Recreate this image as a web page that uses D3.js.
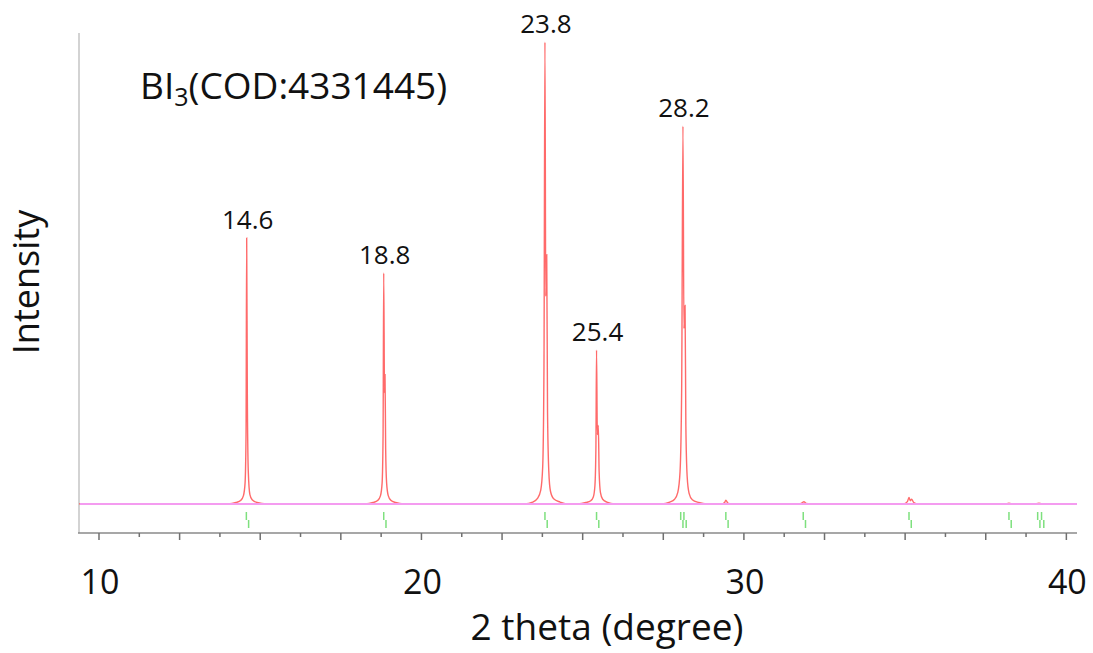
<!DOCTYPE html>
<html>
<head>
<meta charset="utf-8">
<script src="https://cdn.jsdelivr.net/npm/d3@7/dist/d3.min.js"></script>
<style>
  body { margin: 0; background: #fff; }
  text { font-family: "Open Sans", "Noto Sans", sans-serif; fill: #111; }
</style>
</head>
<body>
<svg id="chart" width="1093" height="653"></svg>
<script>
// simulated powder pattern, [2theta, relative intensity]
const pattern = [
  [9.38, 0], [14.0, 0], [14.25, 0.3], [14.4, 0.8], [14.48, 1.8], [14.53, 4.5], [14.56, 15],
  [14.58, 57.6], [14.6, 24], [14.63, 7], [14.68, 2], [14.75, 0.9], [14.9, 0.3], [15.2, 0],
  [18.25, 0], [18.5, 0.3], [18.65, 0.8], [18.73, 1.8], [18.78, 4.5], [18.81, 15],
  [18.83, 50], [18.855, 24], [18.87, 28], [18.89, 12], [18.92, 4.5], [18.97, 1.8],
  [19.05, 0.8], [19.2, 0.3], [19.45, 0],
  [23.2, 0], [23.45, 0.4], [23.6, 1.2], [23.7, 3], [23.76, 8], [23.8, 30],
  [23.83, 100], [23.855, 45], [23.885, 54], [23.91, 20], [23.95, 7], [24.0, 2.8],
  [24.1, 1.1], [24.3, 0.4], [24.5, 0],
  [24.85, 0], [25.1, 0.3], [25.25, 0.7], [25.33, 1.5], [25.38, 4], [25.41, 12],
  [25.43, 33.3], [25.455, 15], [25.485, 17], [25.51, 7], [25.55, 2.5], [25.62, 1],
  [25.75, 0.4], [26.0, 0],
  [27.45, 0], [27.7, 0.4], [27.85, 1], [27.95, 2.5], [28.02, 7], [28.07, 25],
  [28.11, 81.8], [28.14, 38], [28.175, 43], [28.2, 17], [28.24, 6], [28.3, 2.3],
  [28.4, 0.9], [28.6, 0.3], [28.85, 0],
  [29.3, 0], [29.4, 0.3], [29.44, 0.8], [29.5, 0.2], [29.6, 0],
  [31.7, 0], [31.82, 0.3], [31.86, 0.5], [31.93, 0.1], [32.05, 0],
  [34.95, 0], [35.07, 0.5], [35.12, 1.4], [35.16, 0.7], [35.2, 1.0], [35.27, 0.3], [35.4, 0],
  [38.1, 0], [38.22, 0.15], [38.35, 0], [39.0, 0], [39.15, 0.15], [39.3, 0], [40.33, 0]
];

// reflection markers (Ka1 positions)
const reflections = [14.57, 18.83, 23.83, 25.43, 28.04, 28.14, 29.44, 31.84, 35.12, 38.22, 39.11, 39.23];

const peakLabels = ["14.6", "18.8", "23.8", "25.4", "28.2"];
const peakAt = [14.58, 18.83, 23.83, 25.43, 28.11];
const peakTop = [57.6, 50, 100, 33.3, 81.8];

const xTickLabels = [10, 20, 30, 40];

const svg = d3.select("#chart");
const x = d3.scaleLinear().domain([9.38, 40.33]).range([79, 1077]);
const y = d3.scaleLinear().domain([-6.3, 102]).range([533, 33]);

// axes
svg.append("line")
  .attr("x1", 79).attr("x2", 79).attr("y1", 33).attr("y2", 533)
  .attr("stroke", "#c4c4c4").attr("stroke-width", 1.5);
svg.append("line")
  .attr("x1", 78).attr("x2", 1077).attr("y1", 533).attr("y2", 533)
  .attr("stroke", "#8a8a8a").attr("stroke-width", 1.5);

const ticks = d3.range(10, 40.01, 1.25);
svg.selectAll(".tick")
  .data(ticks)
  .join("line")
  .attr("class", "tick")
  .attr("x1", (d) => x(d)).attr("x2", (d) => x(d))
  .attr("y1", 533)
  .attr("y2", (d) => (d % 2.5 === 0 ? 540 : 537))
  .attr("stroke", "#707070").attr("stroke-width", 1.5);

svg.selectAll(".xlab")
  .data(xTickLabels)
  .join("text")
  .attr("class", "xlab")
  .attr("x", (d) => x(d) + 1)
  .attr("y", 594)
  .attr("text-anchor", "middle")
  .attr("font-size", 34)
  .text((d) => d);

// pattern
const line = d3.line()
  .x((d) => x(d[0]))
  .y((d) => y(d[1]))
  .curve(d3.curveMonotoneX);

svg.append("path")
  .datum(pattern)
  .attr("d", line)
  .attr("fill", "none")
  .attr("stroke", "#ff5050")
  .attr("stroke-opacity", 0.85)
  .attr("stroke-width", 1.4);

svg.append("line")
  .attr("x1", 80).attr("x2", 1077).attr("y1", y(0)).attr("y2", y(0))
  .attr("stroke", "#f49cf0").attr("stroke-width", 2);

// reflection ticks, Ka1 above and Ka2 below
const marks = svg.append("g").attr("stroke", "#7ee07e").attr("stroke-width", 1.5);
marks.selectAll(".k1")
  .data(reflections)
  .join("line")
  .attr("x1", (d) => x(d)).attr("x2", (d) => x(d))
  .attr("y1", 512).attr("y2", 520);
marks.selectAll(".k2")
  .data(reflections)
  .join("line")
  .attr("x1", (d) => x(d + 0.07)).attr("x2", (d) => x(d + 0.07))
  .attr("y1", 520).attr("y2", 528);

// peak labels
svg.selectAll(".plab")
  .data(peakLabels)
  .join("text")
  .attr("class", "plab")
  .attr("x", (d, i) => x(peakAt[i]) + 1)
  .attr("y", (d, i) => y(peakTop[i]) - 9)
  .attr("text-anchor", "middle")
  .attr("font-size", 26)
  .text((d) => d);

// title
const title = svg.append("text")
  .attr("x", 140).attr("y", 99)
  .attr("font-size", 37);
title.append("tspan").text("BI");
title.append("tspan").attr("font-size", 25).attr("dy", 7).text("3");
title.append("tspan").attr("dy", -7).text("(COD:4331445)");

svg.append("text")
  .attr("transform", "translate(39,282) rotate(-90)")
  .attr("text-anchor", "middle")
  .attr("font-size", 36)
  .text("Intensity");

svg.append("text")
  .attr("x", 607).attr("y", 640)
  .attr("text-anchor", "middle")
  .attr("font-size", 37)
  .text("2 theta (degree)");
</script>
</body>
</html>
